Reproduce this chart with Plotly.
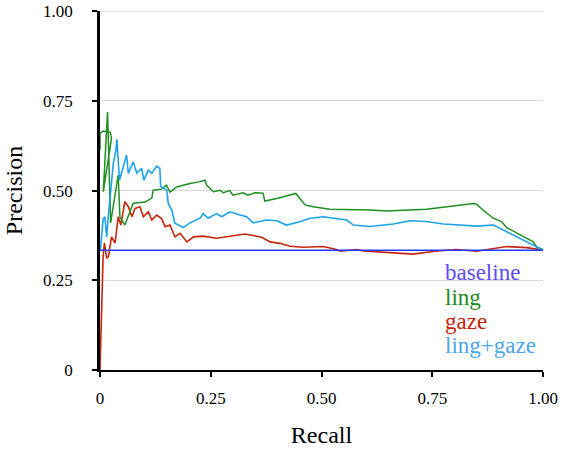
import plotly.graph_objects as go

# ---- data ----
ling_recall = [0.0, 0.0, 0.007, 0.023, 0.026, 0.0075, 0.017, 0.024, 0.041, 0.045, 0.056, 0.075, 0.102,
               0.117, 0.12, 0.139, 0.15, 0.158, 0.173, 0.203, 0.226, 0.237, 0.241, 0.256, 0.271, 0.278,
               0.293, 0.30, 0.323, 0.334, 0.35, 0.368, 0.372, 0.399, 0.442, 0.463, 0.481, 0.519, 0.609,
               0.647, 0.737, 0.843, 0.85, 0.869, 0.888, 0.907, 0.918, 0.941, 0.956, 0.978, 0.986, 1.0]
ling_precision = [0.613, 0.66, 0.666, 0.663, 0.646, 0.497, 0.719, 0.41, 0.543, 0.426, 0.404, 0.465, 0.468,
                  0.479, 0.501, 0.504, 0.515, 0.496, 0.51, 0.52, 0.525, 0.529, 0.515, 0.497, 0.501, 0.494,
                  0.50, 0.487, 0.494, 0.487, 0.494, 0.493, 0.471, 0.478, 0.492, 0.46, 0.455, 0.448, 0.446,
                  0.443, 0.448, 0.464, 0.462, 0.441, 0.423, 0.413, 0.397, 0.382, 0.37, 0.357, 0.342, 0.336]

lg_recall = [0.001, 0.005, 0.007, 0.011, 0.015, 0.019, 0.024, 0.03, 0.036, 0.038, 0.044, 0.053, 0.06,
             0.064, 0.075, 0.083, 0.094, 0.099, 0.109, 0.117, 0.128, 0.135, 0.137, 0.151, 0.154, 0.162,
             0.169, 0.188, 0.203, 0.226, 0.233, 0.244, 0.263, 0.275, 0.293, 0.316, 0.331, 0.346, 0.376,
             0.399, 0.421, 0.451, 0.474, 0.504, 0.534, 0.557, 0.572, 0.609, 0.662, 0.70, 0.737, 0.775,
             0.813, 0.85, 0.888, 0.91, 0.933, 0.956, 0.978, 1.0]
lg_precision = [0.334, 0.409, 0.42, 0.427, 0.371, 0.432, 0.50, 0.576, 0.613, 0.643, 0.529, 0.566, 0.599,
                0.548, 0.58, 0.549, 0.562, 0.529, 0.557, 0.548, 0.568, 0.562, 0.511, 0.501, 0.464, 0.446,
                0.409, 0.397, 0.41, 0.423, 0.436, 0.423, 0.436, 0.427, 0.441, 0.432, 0.427, 0.41, 0.418,
                0.416, 0.404, 0.413, 0.423, 0.427, 0.423, 0.418, 0.404, 0.40, 0.407, 0.416, 0.414, 0.407,
                0.404, 0.401, 0.404, 0.39, 0.376, 0.362, 0.348, 0.334]

gaze_recall = [0.0, 0.004, 0.007, 0.01, 0.015, 0.019, 0.026, 0.034, 0.041, 0.047, 0.056, 0.064, 0.072,
               0.079, 0.09, 0.098, 0.109, 0.117, 0.128, 0.139, 0.147, 0.158, 0.169, 0.181, 0.196, 0.211,
               0.233, 0.263, 0.309, 0.327, 0.354, 0.365, 0.384, 0.406, 0.429, 0.459, 0.504, 0.534, 0.542,
               0.579, 0.594, 0.662, 0.707, 0.756, 0.805, 0.85, 0.888, 0.918, 0.963, 0.986, 1.0]
gaze_precision = [0.0, 0.204, 0.316, 0.354, 0.312, 0.316, 0.371, 0.354, 0.427, 0.404, 0.469, 0.455, 0.427,
                  0.45, 0.455, 0.427, 0.441, 0.418, 0.432, 0.422, 0.399, 0.404, 0.371, 0.381, 0.357, 0.371,
                  0.373, 0.367, 0.376, 0.379, 0.373, 0.37, 0.357, 0.353, 0.345, 0.342, 0.344, 0.336, 0.331,
                  0.336, 0.332, 0.327, 0.323, 0.331, 0.336, 0.331, 0.339, 0.344, 0.341, 0.336, 0.334]

baseline_recall = [0.0, 1.0]
baseline_precision = [0.334, 0.334]

tick_vals = [0, 0.25, 0.5, 0.75, 1.0]
tick_text = ["0", "0.25", "0.50", "0.75", "1.00"]

legend_names = ["baseline", "ling", "gaze", "ling+gaze"]
legend_colors = ["#5b4cf5", "#1b8b1b", "#c4200a", "#4aa6ee"]

FONT = "Liberation Serif"

fig = go.Figure()
fig.add_trace(go.Scatter(x=gaze_recall, y=gaze_precision, mode="lines",
                         line=dict(color="#c8260c", width=1.6), name="gaze"))
fig.add_trace(go.Scatter(x=ling_recall, y=ling_precision, mode="lines",
                         line=dict(color="#1f8f1f", width=1.5), name="ling"))
fig.add_trace(go.Scatter(x=lg_recall, y=lg_precision, mode="lines",
                         line=dict(color="#1aa3e8", width=1.6), name="ling+gaze"))
fig.add_trace(go.Scatter(x=baseline_recall, y=baseline_precision, mode="lines",
                         line=dict(color="#1d3cff", width=1.5), name="baseline"))

legend_y = [0.272, 0.2006, 0.134, 0.0676]
for name, col, yy in zip(legend_names, legend_colors, legend_y):
    fig.add_annotation(x=0.775, y=yy, xref="paper", yref="paper", text=name,
                       showarrow=False, xanchor="left", yanchor="middle",
                       font=dict(family=FONT, size=23, color=col))

# top grid line (plotly drops the grid line lying on the plot edge)
fig.add_shape(type="line", xref="paper", yref="y", x0=0, x1=1, y0=tick_vals[-1], y1=tick_vals[-1],
              line=dict(color="#d9d9d9", width=1), layer="below")

fig.update_layout(
    width=562, height=453,
    margin=dict(l=100, r=19, t=11, b=83, autoexpand=False),
    paper_bgcolor="white", plot_bgcolor="white",
    showlegend=False,
    font=dict(family=FONT, color="black"),
    xaxis=dict(range=[0, 1], tickvals=tick_vals, ticktext=tick_text, automargin=False,
               showgrid=False, zeroline=False, showline=True, linecolor="black", linewidth=2,
               ticks="outside", ticklen=5, tickwidth=2, tickcolor="black", ticklabelstandoff=7,
               tickfont=dict(family=FONT, size=17, color="black"),
               title=dict(text="Recall", font=dict(family=FONT, size=24, color="black"), standoff=19)),
    yaxis=dict(range=[0, 1.0005], tickvals=tick_vals, ticktext=tick_text, automargin=False,
               showgrid=True, gridcolor="#d9d9d9", gridwidth=1, zeroline=False,
               showline=True, linecolor="black", linewidth=2.5,
               ticks="outside", ticklen=5, tickwidth=2, tickcolor="black", ticklabelstandoff=16,
               tickfont=dict(family=FONT, size=17, color="black"),
               title=dict(text="Precision", font=dict(family=FONT, size=24, color="black"), standoff=14)),
)

fig.write_html("out.html", config={"displayModeBar": False},
               post_script="document.body.style.margin='0';document.body.style.overflow='hidden';")
